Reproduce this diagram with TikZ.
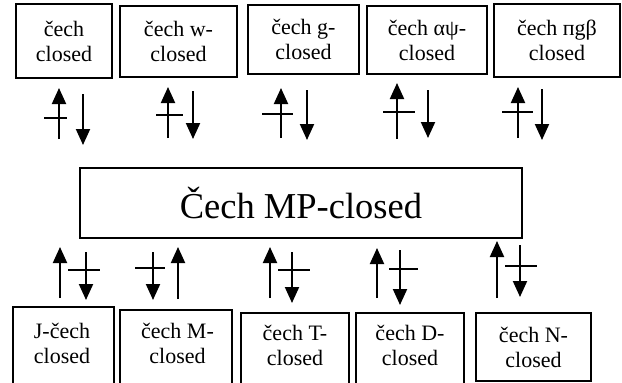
\documentclass[tikz,border=0pt]{standalone}
\usepackage{fontspec}
\setmainfont{Liberation Serif}
\usetikzlibrary{arrows.meta}

\tikzset{
  panel/.style={draw, line width=1.4pt, inner sep=0pt, align=center,
    font=\fontsize{22}{25}\selectfont},
  hub/.style={draw, line width=1.6pt, inner sep=0pt,
    font=\fontsize{36.5}{40}\selectfont},
  caption/.style={inner sep=0pt, align=center,
    font=\fontsize{22}{25}\selectfont},
  link/.style={line width=2pt, -{Triangle[length=16pt,width=14pt]}},
  bar/.style={line width=1.7pt},
}

\begin{document}
\begin{tikzpicture}[x=1pt, y=-1pt]
\useasboundingbox (0,0) rectangle (622,383);

% upper row of classes
\node[panel, minimum width=96pt,  minimum height=74pt] (t1) at (64,41)    {čech\\closed};
\node[panel, minimum width=117pt, minimum height=71pt] (t2) at (178.5,41.5) {čech w-\\closed};
\node[panel, minimum width=111pt, minimum height=69pt] (t3) at (303.5,39.5) {čech g-\\closed};
\node[panel, minimum width=120pt, minimum height=68pt] (t4) at (427,40)   {čech αψ-\\closed};
\node[panel, minimum width=126pt, minimum height=73pt] (t5) at (557,40.5) {čech пgβ\\closed};

% central class
\node[hub, minimum width=442pt, minimum height=70pt] (mp) at (301,203) {Čech MP-closed};

% lower row of classes (frames run past the lower edge)
\node[panel, minimum width=101pt, minimum height=84pt] (b1) at (63.5,349)  {};
\node[panel, minimum width=112pt, minimum height=81pt] (b2) at (176,350.5) {};
\node[panel, minimum width=108pt, minimum height=78pt] (b3) at (295,352)   {};
\node[panel, minimum width=108pt, minimum height=78pt] (b4) at (410,352)   {};
\node[panel, minimum width=115pt, minimum height=68pt] (b5) at (533.5,347) {čech N-\\closed};

\node[caption] (c1) at (62,343)  {J-čech\\closed};
\node[caption] (c2) at (177.5,343) {čech M-\\closed};
\node[caption] (c3) at (295,345) {čech T-\\closed};
\node[caption] (c4) at (410,345) {čech D-\\closed};

% upper implications: up arrow crossed out, down arrow plain
% xup / tip / foot / xdown / start / tip / bar y / bar x1 / bar x2
\foreach \n/\xu/\yut/\yub/\xd/\ydt/\ydb/\yb/\xa/\xb in {
  1/59/88/139/83/94/145/118/44/67,
  2/168/87/138/193/91/139/115/156/183,
  3/281/88/138/307/90/140/114/262/293,
  4/397/83/139/428/90/138/112/383/415,
  5/518/87/138/542/89/140/112/502/533}{
  \coordinate (tu\n a) at (\xu,\yub);
  \coordinate (tu\n b) at (\xu,\yut);
  \coordinate (td\n a) at (\xd,\ydt);
  \coordinate (td\n b) at (\xd,\ydb);
  \coordinate (tx\n a) at (\xa,\yb);
  \coordinate (tx\n b) at (\xb,\yb);
  \draw[link] (tu\n a) -- (tu\n b);
  \draw[link] (td\n a) -- (td\n b);
  \draw[bar] (tx\n a) -- (tx\n b);
}

% lower implications: up arrow plain, down arrow crossed out
\foreach \n/\xu/\yut/\yub/\xd/\ydt/\ydb/\yb/\xa/\xb in {
  1/60/247/298/86/252/300/270/68/100,
  2/178/247/299/153/252/300/268/135/165,
  3/270/247/298/292/252/303/270/278/310,
  4/377/248/298/400/250/305/269/389/418,
  5/497/241/298/520/245/297/266/505/537}{
  \coordinate (bu\n a) at (\xu,\yub);
  \coordinate (bu\n b) at (\xu,\yut);
  \coordinate (bd\n a) at (\xd,\ydt);
  \coordinate (bd\n b) at (\xd,\ydb);
  \coordinate (bx\n a) at (\xa,\yb);
  \coordinate (bx\n b) at (\xb,\yb);
  \draw[link] (bu\n a) -- (bu\n b);
  \draw[link] (bd\n a) -- (bd\n b);
  \draw[bar] (bx\n a) -- (bx\n b);
}
\end{tikzpicture}
\end{document}
